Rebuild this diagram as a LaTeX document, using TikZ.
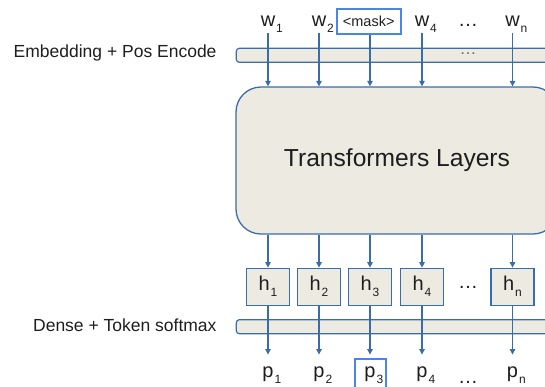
\documentclass[tikz,border=0pt]{standalone}
\usepackage{fontspec}
\setmainfont{Liberation Sans}
\usetikzlibrary{arrows.meta}
\definecolor{lineblue}{RGB}{58,108,168}
\definecolor{boxfill}{RGB}{237,235,225}
\definecolor{maskblue}{RGB}{74,134,232}
\definecolor{txt}{RGB}{30,30,30}
\definecolor{dotgray}{RGB}{110,110,110}
\newcommand\tokfont{\fontsize{20}{24}\selectfont}
\newcommand\subfont{\fontsize{12}{14}\selectfont}
\newcommand\tok[2]{#1\rlap{\kern1pt\raisebox{-6pt}{\subfont #2}}}
\newcommand\tokc[2]{#1\kern1pt\raisebox{-6pt}{\subfont #2}}
\begin{document}
\begin{tikzpicture}[x=1pt,y=-1pt,
  bar/.style={draw=lineblue, fill=boxfill, line width=1.2pt, rounded corners=3pt,
    minimum width=400pt, minimum height=14pt, inner sep=0pt, anchor=west},
  big/.style={draw=lineblue, fill=boxfill, line width=1.3pt, rounded corners=25pt,
    minimum width=322pt, minimum height=147pt, inner sep=0pt, text=txt,
    font=\fontsize{24.6}{30}\selectfont},
  hbox/.style={draw=lineblue, fill=boxfill, line width=1.2pt, minimum width=43pt,
    minimum height=37pt, inner sep=0pt, text=txt, font=\tokfont},
  arr/.style={draw=lineblue, line width=1.1pt, -{Triangle[width=5.5pt,length=5.5pt]}},
  word/.style={font=\tokfont, text=txt, inner sep=0pt, anchor=base},
  lab/.style={font=\fontsize{17.5}{20}\selectfont, text=txt, anchor=base east, inner sep=0pt},
  maskbox/.style={draw=maskblue, line width=2pt, minimum width=64pt, minimum height=25pt,
    inner sep=0pt, text=txt, font=\fontsize{14.5}{16}\selectfont},
  maskline/.style={draw=maskblue, line width=2pt}
]
\useasboundingbox (0,0) rectangle (545,386);

% labels
\node[lab] (lemb) at (216.7,57.3) {Embedding + Pos Encode};
\node[lab] (lden) at (216.7,331.7) {Dense + Token softmax};

% bars
\node[bar] (emb) at (235.7,55.3) {};
\node[bar] (den) at (235.7,326.7) {};
\node[font=\fontsize{17}{20}\selectfont, text=dotgray, inner sep=0pt, anchor=base] (embdots) at (468,54.5) {…};

% transformer block
\node[big] (tr) at (397,160.5) {Transformers Layers};

% hidden boxes
\node[hbox] (h1) at (268,286.7) {\tokc{h}{1}};
\node[hbox] (h2) at (319,286.7) {\tokc{h}{2}};
\node[hbox] (h3) at (370,286.7) {\tokc{h}{3}};
\node[hbox] (h4) at (422,286.7) {\tokc{h}{4}};
\node[hbox] (hn) at (512.5,286.7) {\tokc{h}{n}};
\node[word] (hdots) at (468,288.5) {…};

% input words
\node[word] (w1) at (268,26.7) {\tok{w}{1}};
\node[word] (w2) at (319,26.7) {\tok{w}{2}};
\node[maskbox] (w3) at (368.7,21.8) {<mask>};
\node[word] (w4) at (422,26.7) {\tok{w}{4}};
\node[word] (wdots) at (468,26.7) {…};
\node[word] (wn) at (512.5,26.7) {\tok{w}{n}};

% outputs
\node[word] (p1) at (268,377.5) {\tok{p}{1}};
\node[word] (p2) at (319,377.5) {\tok{p}{2}};
\node[word] (p3) at (370,377.5) {\tok{p}{3}};
\node[word] (p4) at (422,377.5) {\tok{p}{4}};
\node[word] (pdots) at (468,383) {…};
\node[word] (pn) at (512.5,377.5) {\tok{p}{n}};
\draw[maskline] (355,359.3) rectangle (386,400);

% arrows: words -> transformer
\draw[arr] (w1.south) -- (w1.south |- tr.north);
\draw[arr] (w2.south) -- (w2.south |- tr.north);
\draw[arr] (w3.south -| h3) -- (h3 |- tr.north);
\draw[arr] (w4.south) -- (w4.south |- tr.north);
\draw[arr] (wn.south) -- (wn.south |- tr.north);

% transformer -> hidden
\foreach \n in {h1,h2,h3,h4,hn}
  \draw[arr] (\n |- tr.south) -- (\n.north);

% hidden -> outputs
\draw[arr] (h1.south) -- ([yshift=12pt]p1.north);
\draw[arr] (h2.south) -- ([yshift=12pt]p2.north);
\draw[arr] (h3.south) -- ([yshift=12pt]p3.north);
\draw[arr] (h4.south) -- ([yshift=12pt]p4.north);
\draw[arr] (hn.south) -- ([yshift=12pt]pn.north);
\end{tikzpicture}
\end{document}
